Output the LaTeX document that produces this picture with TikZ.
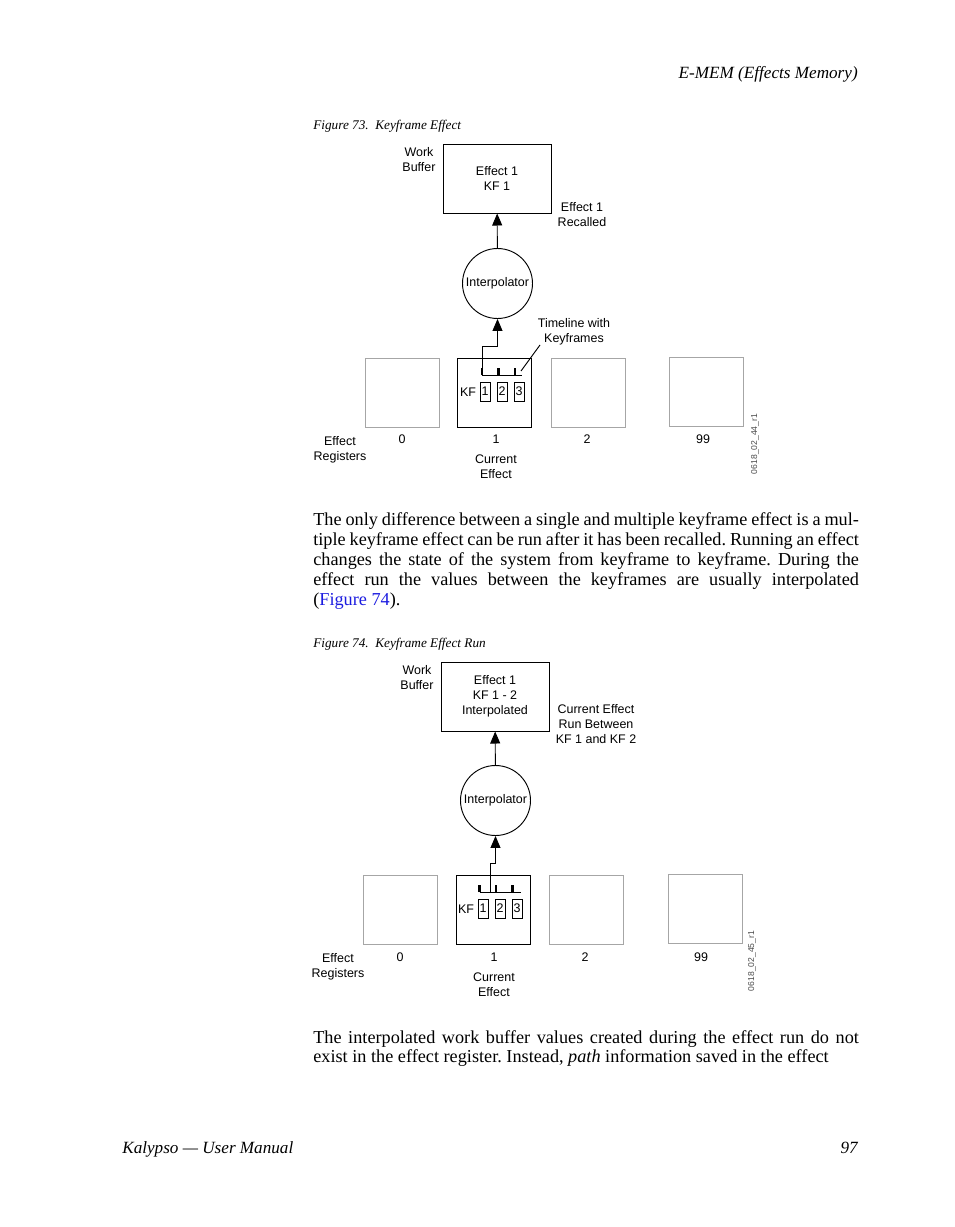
\documentclass[tikz,border=0pt]{standalone}
\usepackage{fontspec}
\setmainfont{Liberation Serif}
\setsansfont{Liberation Sans}
\usetikzlibrary{arrows.meta, positioning}
\definecolor{xgray}{HTML}{A6A6A6}
\definecolor{xblue}{HTML}{1C1CE0}
\frenchspacing
\tikzset{
  lbl/.style = {font=\sffamily\fontsize{8}{9.6}\selectfont, align=center, inner sep=0pt},
  tiny/.style = {font=\sffamily\fontsize{5.5}{6}\selectfont, inner sep=0pt, rotate=90, text=black!70},
  bufbox/.style = {draw, line width=0.6pt, minimum width=69.3pt, minimum height=44.3pt, lbl},
  regbox/.style = {draw=#1, line width=0.6pt, minimum width=47.5pt, minimum height=44.3pt, inner sep=0pt},
  interp/.style = {circle, draw, line width=0.6pt, minimum size=44.9pt, inner sep=0pt, lbl},
  kfbox/.style = {draw, line width=0.5pt, minimum width=6.4pt, minimum height=12.2pt, inner sep=0pt, lbl},
  kftick/.style = {line width=1.4pt},
  vector/.style = {-{Triangle[width=6.4pt, length=7.7pt]}, line width=0.6pt},
  body/.style = {font=\fontsize{11.7}{12.8}\selectfont, anchor=base west, inner sep=0pt},
  caption/.style = {font=\itshape\fontsize{8.5}{10}\selectfont, anchor=base west, inner sep=0pt},
}
\newcommand{\fullline}[1]{\makebox[350pt][s]{#1}}

\begin{document}
\begin{tikzpicture}[x=0.6415pt, y=-0.6415pt]
  \useasboundingbox[fill=white] (0,0) rectangle (954,1227);

  % page header and footer
  \node[font=\itshape\fontsize{11}{13}\selectfont, anchor=base east, inner sep=0pt] (head) at (858,79) {E-MEM (Effects Memory)};
  \node[font=\itshape\fontsize{11}{13}\selectfont, anchor=base west, inner sep=0pt] (foot) at (122,1153) {Kalypso --- User Manual};
  \node[font=\itshape\fontsize{11}{13}\selectfont, anchor=base east, inner sep=0pt] (pagenum) at (858,1153) {97};

  % Figure 73
  \node[caption] (cap1) at (313,130) {Figure 73.\ \ Keyframe Effect};
  \node[bufbox] (buf1) at (497,178.5) {Effect 1\\KF 1};
  \node[lbl] (wb1) at (419,160) {Work\\Buffer};
  \node[lbl] (rec1) at (582,214.5) {Effect 1\\Recalled};
  \node[interp] (ip1) at (497.5,283.5) {Interpolator};
  \draw[vector] (ip1) -- (buf1);

  \node[regbox=xgray] (r10) at (402,392.5) {};
  \node[regbox=black] (r11) at (494,392.5) {};
  \node[regbox=xgray] (r12) at (588,392.5) {};
  \node[regbox=xgray] (r199) at (706.5,391.5) {};
  \node[lbl] (n10) at (402,439) {0};
  \node[lbl] (n11) at (496,439) {1};
  \node[lbl] (n12) at (587,439) {2};
  \node[lbl] (n199) at (703,439) {99};
  \node[lbl] (er1) at (340,449.5) {Effect\\Registers};
  \node[lbl] (ce1) at (496,467) {Current\\Effect};
  \node[tiny] (id1) at (755,444) {0618\_02\_44\_r1};

  \node[lbl, anchor=center] (kf1) at (468,392) {KF};
  \node[kfbox] (k11) at (485,391.5) {1};
  \node[kfbox] (k12) at (502,391.5) {2};
  \node[kfbox] (k13) at (519,391.5) {3};
  \coordinate (t11) at (482,375);
  \coordinate (t12) at (498.5,375);
  \coordinate (t13) at (515,375);
  \draw[line width=0.6pt] (t11) -- (522,375);
  \foreach \t in {t11,t12,t13} \draw[kftick] (\t) -- ++(0,-7);
  \draw[vector] (t11) -- (482,346) -| (ip1.south);
  \node[lbl] (tl1) at (574,331.5) {Timeline with\\Keyframes};
  \draw[line width=0.6pt] (540,345) -- (521,371);

  % body text
  \node[body] (p1) at (313,525) {\fullline{The only difference between a single and multiple keyframe effect is a mul-}};
  \node[body] (p2) at (313,545) {\fullline{tiple keyframe effect can be run after it has been recalled. Running an effect}};
  \node[body] (p3) at (313,565) {\fullline{changes the state of the system from keyframe to keyframe. During the}};
  \node[body] (p4) at (313,585) {\fullline{effect run the values between the keyframes are usually interpolated}};
  \node[body] (p5) at (313,605) {(\textcolor{xblue}{Figure 74}).};

  % Figure 74
  \node[caption] (cap2) at (313,647) {Figure 74.\ \ Keyframe Effect Run};
  \node[bufbox] (buf2) at (495,696.5) {Effect 1\\KF 1 - 2\\Interpolated};
  \node[lbl] (wb2) at (417,677.5) {Work\\Buffer};
  \node[lbl] (run2) at (596,724) {Current Effect\\Run Between\\KF 1 and KF 2};
  \node[interp] (ip2) at (495.5,800.5) {Interpolator};
  \draw[vector] (ip2) -- (buf2);

  \node[regbox=xgray] (r20) at (400,909.5) {};
  \node[regbox=black] (r21) at (493,909.5) {};
  \node[regbox=xgray] (r22) at (586,909.5) {};
  \node[regbox=xgray] (r299) at (705,908.5) {};
  \node[lbl] (n20) at (400,957) {0};
  \node[lbl] (n21) at (494,957) {1};
  \node[lbl] (n22) at (585,957) {2};
  \node[lbl] (n299) at (701,957) {99};
  \node[lbl] (er2) at (338,967) {Effect\\Registers};
  \node[lbl] (ce2) at (494,985) {Current\\Effect};
  \node[tiny] (id2) at (752,961) {0618\_02\_45\_r1};

  \node[lbl, anchor=center] (kf2) at (466,909) {KF};
  \node[kfbox] (k21) at (483,908.5) {1};
  \node[kfbox] (k22) at (500,908.5) {2};
  \node[kfbox] (k23) at (517,908.5) {3};
  \coordinate (t21) at (479.5,892);
  \coordinate (t22) at (496,892);
  \coordinate (t23) at (512.5,892);
  \coordinate (mid2) at (490,892);
  \draw[line width=0.6pt] (t21) -- (521,892);
  \foreach \t in {t21,t22,t23} \draw[kftick] (\t) -- ++(0,-7);
  \draw[vector] (mid2) -- (490,863) -| (ip2.south);

  \node[body] (q1) at (313,1043) {\fullline{The interpolated work buffer values created during the effect run do not}};
  \node[body] (q2) at (313,1062) {exist in the effect register. Instead, \textit{path} information saved in the effect};
\end{tikzpicture}
\end{document}
